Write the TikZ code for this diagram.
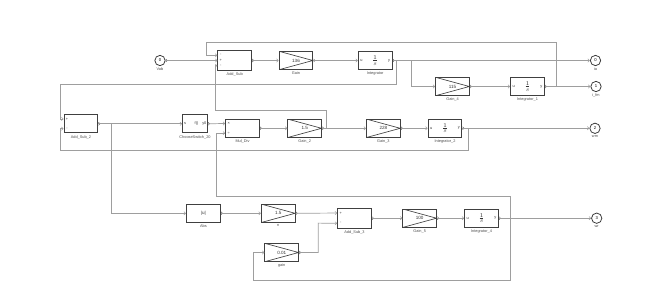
\documentclass[tikz,border=0pt]{standalone}
\usepackage{fontspec}
\setmainfont{Liberation Sans}
\usetikzlibrary{arrows.meta,calc}
\newcommand\labf{\fontsize{3.3}{3.6}\selectfont}
\newcommand\valf{\fontsize{3.9}{4.2}\selectfont}
\newcommand\numf{\fontsize{3.6}{4}\selectfont}
\newcommand\frf{\fontsize{5}{5}\selectfont}
\begin{document}
\begin{tikzpicture}[x=0.03cm,y=-0.03cm,
  wire/.style={draw=black!38, line width=0.6pt},
  conn/.style={wire, -{Straight Barb[length=1.5pt,width=2.8pt,line width=0.45pt]}},
  outc/.style={draw=black!60, line width=0.4pt},
  blk/.style={draw=black!75, line width=0.85pt, fill=white, minimum width=1.01cm, minimum height=0.55cm, inner sep=0pt, font=\valf, text=black!80},
  tall/.style={minimum height=0.59cm},
  gainb/.style={blk, path picture={\draw[black!75, line width=0.55pt] (path picture bounding box.north west) -- (path picture bounding box.east) -- (path picture bounding box.south west);}},
  integb/.style={blk, font=\frf, path picture={
      \node[font=\labf, text=black!80] at ([xshift=2.6pt]path picture bounding box.west) {u};
      \node[font=\labf, text=black!80] at ([xshift=-2.6pt]path picture bounding box.east) {y};}},
  port/.style={circle, draw=black!78, line width=0.65pt, minimum size=0.31cm, inner sep=0pt, fill=white, font=\numf},
  lab/.style={font=\labf, text=black!70, inner sep=0.4pt},
  sgn/.style={font=\labf, text=black!80, inner sep=0pt},
  label distance=0.9pt
]
\useasboundingbox (0,0) rectangle (658,298);

% ---- row 1
\node[port, label={[lab]below:Vab}] (vab) at (160,60.5) {0};
\node[blk, tall, label={[lab]below:Add\_Sub}] (as) at (234.7,60.5) {};
\node[gainb, label={[lab]below:Gain}] (gain) at (296,60.5) {136};
\node[integb, label={[lab]below:Integrator}] (int) at (375.2,60.5) {$\frac{1}{s}$};
\node[port, label={[lab]below:ia}] (ia) at (595.5,60.5) {0};
\node[gainb, label={[lab]below:Gain\_4}] (gain4) at (452.5,86.5) {115};
\node[integb, label={[lab]below:Integrator\_1}] (int1) at (527.5,86.5) {$\frac{1}{s}$};
\node[port, label={[lab]below:i\_fm}] (ifm) at (596,86.5) {1};

% ---- row 2
\node[blk, label={[lab]below:Add\_Sub\_2}] (as2) at (80.9,123.8) {};
\node[blk, minimum width=0.74cm, label={[lab]below:ChooseSwitch\_20}] (cs) at (195,123.8) {};
\node[blk, label={[lab]below:Mul\_Div}] (md) at (242.5,128.3) {};
\node[gainb, label={[lab]below:Gain\_2}] (gain2) at (304.7,128.3) {1.5};
\node[gainb, label={[lab]below:Gain\_3}] (gain3) at (383.4,128.3) {228};
\node[integb, label={[lab]below:Integrator\_2}] (int2) at (445,128.3) {$\frac{1}{s}$};
\node[port, label={[lab]below:wm}] (wm) at (595,128.3) {2};

% ---- row 3
\node[blk, label={[lab]below:Abs}] (abs) at (203.4,213.3) {|u|};
\node[gainb, label={[lab]below:n}] (gn) at (278.2,213.3) {1.5};
\node[blk, tall, label={[lab]below:Add\_Sub\_3}] (as3) at (354.5,218.2) {};
\node[gainb, label={[lab]below:Gain\_5}] (gain5) at (419.7,218.2) {100};
\node[integb, label={[lab]below:Integrator\_4}] (int4) at (481.5,218.2) {$\frac{1}{s}$};
\node[port, label={[lab]below:wr}] (wr) at (596.7,218.2) {3};
\node[gainb, label={[lab]below:gain}] (g001) at (281.7,252.5) {0.01};

% ---- input coordinates
\coordinate (as-i1) at ($(as.north west)!0.25!(as.south west)$);
\coordinate (as-i3) at ($(as.north west)!0.75!(as.south west)$);
\coordinate (as2-i1) at ($(as2.north west)!0.25!(as2.south west)$);
\coordinate (as2-i2) at ($(as2.north west)!0.75!(as2.south west)$);
\coordinate (md-i1) at ($(md.north west)!0.25!(md.south west)$);
\coordinate (md-i2) at ($(md.north west)!0.75!(md.south west)$);
\coordinate (as3-i1) at ($(as3.north west)!0.25!(as3.south west)$);
\coordinate (as3-i2) at ($(as3.north west)!0.75!(as3.south west)$);

% ---- signs and texts inside blocks
\node[sgn] (s1) at ($(as-i1)+(3.5,0)$) {-};
\node[sgn] (s2) at ($(as.west)+(3.5,0)$) {+};
\node[sgn] (s3) at ($(as-i3)+(3.5,0)$) {-};
\node[sgn] (s4) at ($(as2-i1)+(3.5,0)$) {+};
\node[sgn] (s5) at ($(as2-i2)+(3.5,0)$) {-};
\node[sgn] (s6) at ($(md-i1)+(3.5,0)$) {×};
\node[sgn] (s7) at ($(md-i2)+(3.5,0)$) {÷};
\node[sgn] (s8) at ($(as3-i1)+(3.5,0)$) {+};
\node[sgn] (s9) at ($(as3-i2)+(3.5,0)$) {-};
\node[sgn] (c1) at ($(cs.west)+(3,0)$) {s};
\node[sgn] (c2) at ($(cs.center)+(1.5,0)$) {f()};
\node[sgn] (c3) at ($(cs.east)+(-3.5,0)$) {y0};

% ---- output chevrons
\foreach \n in {vab,as,gain,int,gain4,int1,as2,cs,md,gain2,gain3,int2,abs,gn,as3,gain5,int4,g001}
  \draw[outc] ([xshift=0.2pt,yshift=1.3pt]\n.east) -- ([xshift=1.5pt]\n.east) -- ([xshift=0.2pt,yshift=-1.3pt]\n.east);

% ---- junctions
\coordinate (j1) at (396,60.5);
\coordinate (j2) at (411.7,60.5);
\coordinate (j3) at (556,86.5);
\coordinate (j4) at (111,123.8);
\coordinate (j5) at (326,128.3);
\coordinate (j6) at (468,128.3);
\coordinate (j7) at (510.7,218.2);

% ---- connectors row 1
\draw[conn] (vab) -- (as.west);
\draw[conn] (as.east) -- (gain.west);
\draw[conn] (gain.east) -- (int.west);
\draw[conn] (int.east) -- (ia.west);
\draw[conn] (j2) |- (gain4.west);
\draw[conn] (gain4.east) -- (int1.west);
\draw[conn] (int1.east) -- (ifm.west);
\draw[conn] (j3) -- (556,42) -- (206.7,42) |- (as-i1);
\draw[conn] (j1) -- (396,84) -- (60.7,84) |- (as2-i1);

% ---- connectors row 2
\draw[conn] (as2.east) -- (cs.west);
\draw[conn] (cs.east) -- (md-i1);
\draw[conn] (md.east) -- (gain2.west);
\draw[conn] (gain2.east) -- (gain3.west);
\draw[conn] (gain3.east) -- (int2.west);
\draw[conn] (int2.east) -- (wm.west);
\draw[conn] (j5) -- (326,110.7) -- (215,110.7) |- (as-i3);
\draw[conn] (j6) -- (468,150) -- (60.7,150) |- (as2-i2);
\draw[conn] (j4) |- (abs.west);

% ---- connectors row 3
\draw[conn] (abs.east) -- (gn.west);
\draw[conn] (gn.east) -- (as3-i1);
\draw[conn] (as3.east) -- (gain5.west);
\draw[conn] (gain5.east) -- (int4.west);
\draw[conn] (int4.east) -- (wr.west);
\draw[conn] (j7) -- (510.7,196) -- (216,196) |- (md-i2);
\draw[conn] (j7) -- (510.7,280) -- (253.7,280) |- (g001.west);
\draw[conn] (g001.east) -| (318.3,223.1) -- (as3-i2);
\end{tikzpicture}
\end{document}
